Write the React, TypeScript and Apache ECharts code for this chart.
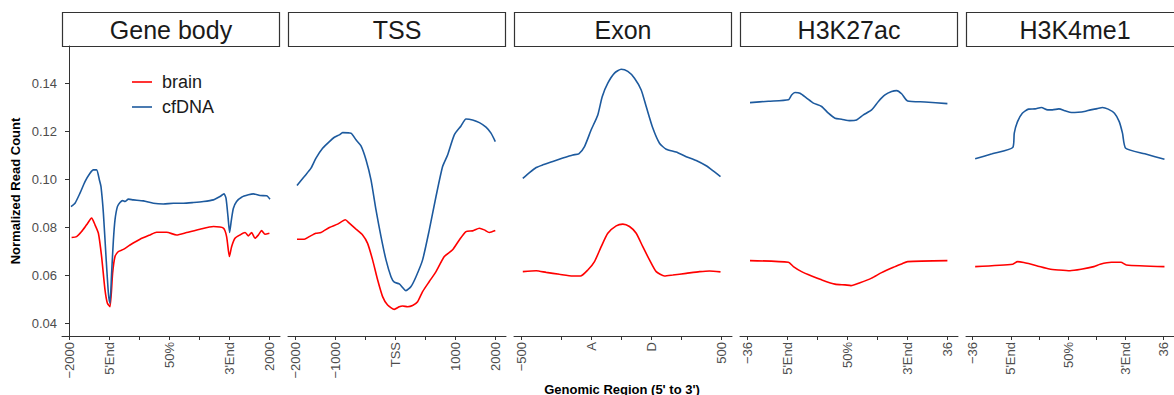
import React, { useEffect, useRef } from "react";
import * as echarts from "echarts";

const FONT = "'Liberation Sans', Arial, sans-serif";

const panelTitles = ["Gene body", "TSS", "Exon", "H3K27ac", "H3K4me1"];
const tickPositions = [0, 20, 35, 50, 65, 80, 100];
const geneBodyTicks = ["−2000", "5'End", "", "50%", "", "3'End", "2000"];
const tssTicks = ["−2000", "−1000", "", "TSS", "", "1000", "2000"];
const exonTicks = ["−500", "", "A", "", "D", "", "500"];
const histoneTicks = ["−36", "5'End", "", "50%", "", "3'End", "36"];
const yTicks = [0.04, 0.06, 0.08, 0.1, 0.12, 0.14];

// Gene body
const geneBodyBrainX = [1.3, 3.8, 6.3, 8.8, 11.3, 13, 14.7, 16.3, 18, 19.2, 20.5, 21.8, 23, 24.7, 27.2, 30.5, 35.5, 40.5, 43.8, 48.8, 53.8, 58.8, 65.5, 72.2, 77.2, 78.8, 80.2, 81.3, 83, 85.5, 88, 89.7, 91.3, 93, 94.7, 96.3, 98, 100.2];
const geneBodyBrainY = [0.0757, 0.0761, 0.0782, 0.081, 0.0838, 0.081, 0.0775, 0.0678, 0.0539, 0.0483, 0.0469, 0.0608, 0.0678, 0.0699, 0.0708, 0.0726, 0.075, 0.0768, 0.0779, 0.0779, 0.0768, 0.0778, 0.0792, 0.0803, 0.0796, 0.0761, 0.0678, 0.0719, 0.0754, 0.0768, 0.0778, 0.0764, 0.0778, 0.0754, 0.0768, 0.0786, 0.0771, 0.0775];
const geneBodyCfdnaX = [1, 3, 5.5, 8, 10.5, 12.2, 13.8, 15.2, 16, 17.2, 18.5, 19.7, 20.5, 21.3, 22.2, 23, 24.2, 25.5, 26.8, 28, 29.7, 32.2, 37.2, 42.2, 47.2, 52.2, 57.2, 62.2, 67.2, 72.2, 75.5, 77.5, 78.5, 79.5, 80.3, 81.2, 82.2, 83.8, 86.3, 89.7, 92.2, 95.5, 98.8, 100.5];
const geneBodyCfdnaY = [0.0886, 0.09, 0.0942, 0.099, 0.1025, 0.1039, 0.1039, 0.0997, 0.0969, 0.0858, 0.0678, 0.0525, 0.0483, 0.0608, 0.0747, 0.0831, 0.0886, 0.0903, 0.0911, 0.0907, 0.0917, 0.0914, 0.091, 0.09, 0.0897, 0.09, 0.09, 0.0903, 0.0907, 0.0914, 0.0928, 0.0939, 0.0921, 0.0844, 0.0778, 0.0831, 0.0879, 0.0907, 0.0925, 0.0935, 0.0939, 0.0932, 0.0931, 0.0917];

// TSS
const tssBrainX = [1, 4.65, 7.15, 10.5, 13, 17.2, 21.3, 25.15, 27.15, 30.5, 33.8, 36.3, 38.8, 41.3, 43.8, 46.3, 49.65, 52.15, 53.8, 56.3, 58.8, 61.3, 63.8, 67.15, 70.5, 74.65, 78.8, 82.15, 85.5, 88.8, 92.2, 94.65, 97.15, 100.15];
const tssBrainY = [0.075, 0.075, 0.0761, 0.0775, 0.0778, 0.0799, 0.0813, 0.0831, 0.0817, 0.0792, 0.0768, 0.0733, 0.0664, 0.0581, 0.0511, 0.0476, 0.0458, 0.0469, 0.0472, 0.0469, 0.0474, 0.049, 0.0532, 0.0574, 0.0615, 0.0678, 0.0706, 0.0747, 0.0782, 0.0785, 0.0796, 0.0789, 0.0778, 0.0786];
const tssCfdnaX = [1, 4.65, 8, 10.5, 13.8, 17.2, 19.7, 22.2, 23.8, 28, 30.5, 33, 35.5, 38, 40.5, 43, 45.5, 48, 49.65, 52.15, 55.5, 58, 60.5, 63.8, 67.15, 70.5, 73.8, 76.3, 79.65, 83, 85.5, 88.8, 92.2, 95.5, 98, 100.15];
const tssCfdnaY = [0.0974, 0.1011, 0.1046, 0.1088, 0.1129, 0.1157, 0.1175, 0.1185, 0.1194, 0.1192, 0.1164, 0.1139, 0.1081, 0.0997, 0.0872, 0.0761, 0.0664, 0.0594, 0.0571, 0.0564, 0.0536, 0.0553, 0.0594, 0.0664, 0.0789, 0.0928, 0.1053, 0.1101, 0.1185, 0.1222, 0.1251, 0.1247, 0.1236, 0.1217, 0.1192, 0.1157];

// Exon
const exonBrainX = [0.9, 7.6, 12.6, 19.25, 25.9, 29.75, 33.4, 36.75, 40.1, 43.4, 47.6, 50.9, 54.25, 57.6, 60.9, 64.25, 67.6, 71.75, 75.9, 82.6, 89.25, 94.25, 99.75];
const exonBrainY = [0.0615, 0.0619, 0.0612, 0.0604, 0.0597, 0.0597, 0.0622, 0.0657, 0.0719, 0.0775, 0.0806, 0.0813, 0.0803, 0.0775, 0.0719, 0.0664, 0.0615, 0.0597, 0.0601, 0.0608, 0.0615, 0.0618, 0.0614];
const exonCfdnaX = [0.9, 4.25, 7.6, 10.9, 15.9, 20.9, 25.9, 28.9, 31.75, 35.1, 38.4, 40.6, 43.4, 46.75, 50.1, 53.4, 56.75, 60.1, 62.6, 65.9, 69.25, 72.6, 77.6, 82.6, 87.6, 92.6, 95.9, 99.75];
const exonCfdnaY = [0.1004, 0.1028, 0.1049, 0.106, 0.1074, 0.1088, 0.1101, 0.1106, 0.1136, 0.1206, 0.1268, 0.1344, 0.14, 0.1442, 0.1458, 0.1449, 0.1421, 0.1372, 0.1303, 0.1213, 0.115, 0.1125, 0.1113, 0.1094, 0.1078, 0.1056, 0.1036, 0.1011];

// H3K27ac
const k27BrainX = [1.5, 20.7, 23.2, 27.3, 32.3, 37.3, 44, 49, 52, 56.5, 62.3, 67.3, 73.2, 77.3, 80.3, 100.2];
const k27BrainY = [0.0661, 0.0654, 0.0636, 0.0615, 0.0597, 0.0581, 0.0563, 0.056, 0.0557, 0.0569, 0.0588, 0.0611, 0.0633, 0.0647, 0.0657, 0.0661];
const k27CfdnaX = [1.5, 10.7, 20.7, 22.3, 24, 26.5, 29.8, 33.2, 37.3, 40.7, 44, 47.3, 51.5, 54.8, 58.2, 62.3, 65.7, 69, 72.3, 74.8, 77.3, 80.3, 89, 100.2];
const k27CfdnaY = [0.1319, 0.1325, 0.1331, 0.1351, 0.1361, 0.1358, 0.1338, 0.1317, 0.1303, 0.1275, 0.1254, 0.125, 0.1244, 0.1247, 0.1268, 0.1289, 0.1324, 0.1351, 0.1365, 0.1369, 0.1356, 0.1326, 0.1322, 0.1315];

// H3K4me1
const k4BrainX = [1.3, 21, 23.5, 26.8, 33.5, 40.2, 45.2, 51, 56.8, 63.5, 66.8, 72.7, 77.7, 80.5, 100.5];
const k4BrainY = [0.0636, 0.0646, 0.0657, 0.0653, 0.064, 0.0626, 0.0622, 0.0619, 0.0625, 0.0636, 0.0646, 0.0654, 0.0654, 0.0643, 0.0636];
const k4CfdnaX = [1.3, 10.2, 21, 21.8, 23.5, 26, 29.3, 32.7, 36, 39.3, 41.8, 45.2, 48.5, 51.8, 55.2, 58.5, 61.8, 65.2, 68, 71, 74.3, 76.8, 78.5, 80.2, 90.2, 100.5];
const k4CfdnaY = [0.1085, 0.1106, 0.1132, 0.1192, 0.124, 0.1275, 0.1292, 0.1293, 0.1299, 0.1289, 0.1289, 0.1293, 0.1285, 0.1278, 0.1279, 0.1282, 0.1289, 0.1294, 0.1299, 0.1292, 0.1275, 0.124, 0.1192, 0.1129, 0.1106, 0.1083];

const zip = (xs: number[], ys: number[]) => xs.map((x, i) => [x, ys[i]]);

const panels = [
  { title: panelTitles[0], ticks: geneBodyTicks, brain: zip(geneBodyBrainX, geneBodyBrainY), cfdna: zip(geneBodyCfdnaX, geneBodyCfdnaY) },
  { title: panelTitles[1], ticks: tssTicks, brain: zip(tssBrainX, tssBrainY), cfdna: zip(tssCfdnaX, tssCfdnaY) },
  { title: panelTitles[2], ticks: exonTicks, brain: zip(exonBrainX, exonBrainY), cfdna: zip(exonCfdnaX, exonCfdnaY) },
  { title: panelTitles[3], ticks: histoneTicks, brain: zip(k27BrainX, k27BrainY), cfdna: zip(k27CfdnaX, k27CfdnaY) },
  { title: panelTitles[4], ticks: histoneTicks, brain: zip(k4BrainX, k4BrainY), cfdna: zip(k4CfdnaX, k4CfdnaY) },
];

const RED = "#FF0000";
const BLUE = "#1D5A9E";
const AXIS = "#333333";
const TEXT = "#4D4D4D";

export default function App() {
  const ref = useRef<HTMLDivElement>(null);
  useEffect(() => {
    if (!ref.current) return;
    const chart = echarts.init(ref.current, undefined, { renderer: "svg" });
    const left0 = 62;
    const pitch = 226;
    const pw = 218;
    const top = 46;
    const ph = 290;

    const grid = panels.map((_, i) => ({ left: left0 + i * pitch, top, width: pw, height: ph }));
    const xAxis = panels.map((p, i) => ({
      type: "value",
      gridIndex: i,
      min: -3.5,
      max: 105.5,
      splitLine: { show: false },
      axisLine: { show: true, lineStyle: { color: AXIS, width: 1 } },
      axisTick: { show: true, customValues: tickPositions, length: 4, lineStyle: { color: AXIS } },
      axisLabel: {
        customValues: tickPositions,
        rotate: 90,
        margin: 6,
        fontSize: 13,
        color: TEXT,
        fontFamily: FONT,
        formatter: (v: number) => {
          const k = tickPositions.indexOf(Math.round(v));
          return k >= 0 ? p.ticks[k] : "";
        },
      },
    }));
    const yAxis = panels.map((_, i) => ({
      type: "value",
      gridIndex: i,
      min: 0.0347,
      max: 0.1555,
      splitLine: { show: false },
      axisLine: { show: i === 0, lineStyle: { color: AXIS, width: 1 } },
      axisTick: { show: i === 0, customValues: yTicks, length: 4, lineStyle: { color: AXIS } },
      axisLabel: {
        show: i === 0,
        customValues: yTicks,
        fontSize: 13,
        color: TEXT,
        fontFamily: FONT,
        margin: 5,
        formatter: (v: number) => v.toFixed(2),
      },
      name: i === 0 ? "Normalized Read Count" : "",
      nameLocation: "middle",
      nameGap: 40,
      nameTextStyle: { fontSize: 13, fontWeight: "bold", color: "#000", fontFamily: FONT },
    }));

    const series: any[] = [];
    panels.forEach((p, i) => {
      series.push({
        name: "brain",
        type: "line",
        xAxisIndex: i,
        yAxisIndex: i,
        data: p.brain,
        symbol: "none",
        showSymbol: false,
        smooth: 0.2,
        color: RED,
        lineStyle: { color: RED, width: 1.6 },
      });
      series.push({
        name: "cfDNA",
        type: "line",
        xAxisIndex: i,
        yAxisIndex: i,
        data: p.cfdna,
        symbol: "none",
        showSymbol: false,
        smooth: 0.2,
        color: BLUE,
        lineStyle: { color: BLUE, width: 1.6 },
      });
    });

    const graphic: any[] = [];
    panels.forEach((p, i) => {
      const x = left0 + i * pitch;
      graphic.push({
        type: "rect",
        shape: { x: x + 0.5, y: 12.5, width: pw - 1, height: 34 },
        style: { fill: "#FFFFFF", stroke: AXIS, lineWidth: 1.2 },
      });
      graphic.push({
        type: "text",
        x: x + pw / 2,
        y: 30,
        style: { text: p.title, fontSize: 25, fill: "#1A1A1A", fontFamily: FONT, align: "center", verticalAlign: "middle" },
      });
    });
    graphic.push({
      type: "text",
      x: 622,
      y: 389,
      style: {
        text: "Genomic Region (5' to 3')",
        fontSize: 13,
        fontWeight: "bold",
        fill: "#000",
        fontFamily: FONT,
        align: "center",
        verticalAlign: "middle",
      },
    });

    chart.setOption({
      animation: false,
      backgroundColor: "#FFFFFF",
      textStyle: { fontFamily: FONT },
      grid,
      xAxis,
      yAxis,
      series,
      graphic,
      legend: {
        data: ["brain", "cfDNA"],
        orient: "vertical",
        left: 127,
        top: 68,
        icon: "rect",
        itemWidth: 20,
        itemHeight: 1.6,
        itemGap: 7,
        textStyle: { fontSize: 18, lineHeight: 18, color: "#1A1A1A", fontFamily: FONT, padding: [0, 0, 0, 5] },
      },
    });
    return () => chart.dispose();
  }, []);
  return (
    <div
      ref={ref}
      style={{ position: "absolute", left: 0, top: 0, width: 1174, height: 395, background: "#fff" }}
    />
  );
}
